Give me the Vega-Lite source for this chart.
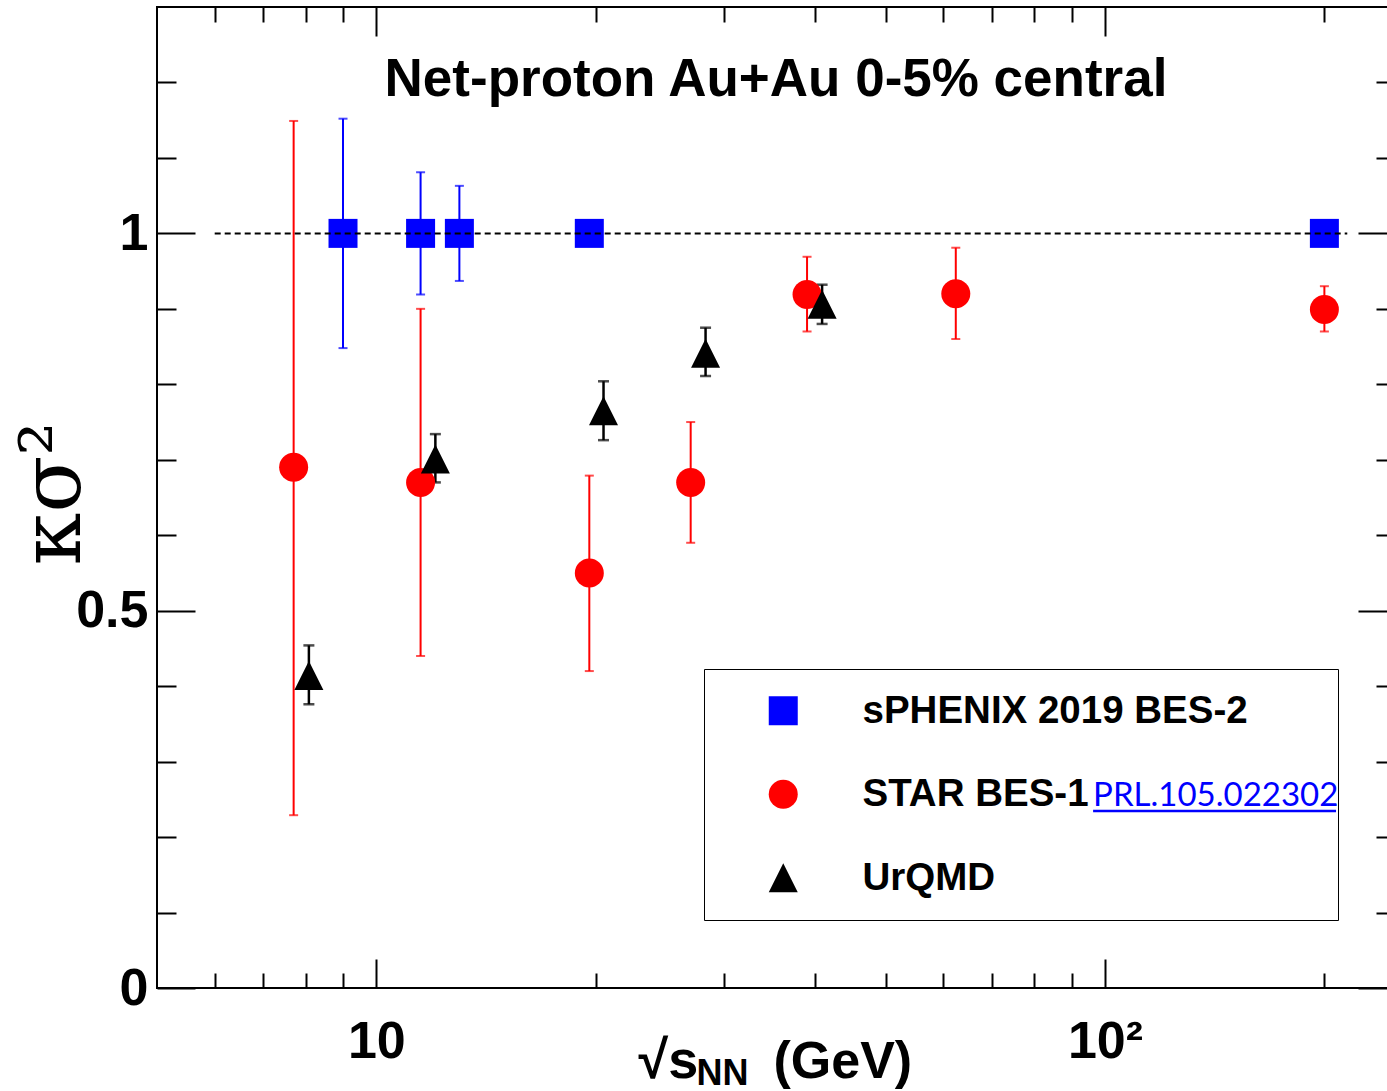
{
  "$schema": "https://vega.github.io/schema/vega-lite/v6.json",
  "autosize": {"type": "none"},
  "padding": {"left": 157, "top": 7, "right": 0, "bottom": 103},
  "width": 1238,
  "height": 981,
  "background": "white",
  "title": {
    "text": "Net-proton Au+Au 0-5% central",
    "font": "Liberation Sans",
    "fontSize": 53,
    "fontWeight": "bold",
    "color": "black",
    "anchor": "middle",
    "frame": "group",
    "baseline": "alphabetic",
    "offset": -143
  },
  "datasets": {
    "kappa": [
      {"series": "sPHENIX 2019 BES-2", "energy": 9.0, "value": 1.0, "lo": 0.848, "hi": 1.152},
      {"series": "sPHENIX 2019 BES-2", "energy": 11.5, "value": 1.0, "lo": 0.919, "hi": 1.081},
      {"series": "sPHENIX 2019 BES-2", "energy": 13.0, "value": 1.0, "lo": 0.937, "hi": 1.063},
      {"series": "sPHENIX 2019 BES-2", "energy": 19.6, "value": 1.0, "lo": 0.988, "hi": 1.012},
      {"series": "sPHENIX 2019 BES-2", "energy": 200, "value": 1.0, "lo": 0.99, "hi": 1.01},
      {"series": "STAR BES-1", "energy": 7.7, "value": 0.69, "lo": 0.229, "hi": 1.149},
      {"series": "STAR BES-1", "energy": 11.5, "value": 0.67, "lo": 0.44, "hi": 0.9},
      {"series": "STAR BES-1", "energy": 19.6, "value": 0.55, "lo": 0.42, "hi": 0.679},
      {"series": "STAR BES-1", "energy": 27, "value": 0.67, "lo": 0.59, "hi": 0.75},
      {"series": "STAR BES-1", "energy": 39, "value": 0.919, "lo": 0.87, "hi": 0.969},
      {"series": "STAR BES-1", "energy": 62.4, "value": 0.92, "lo": 0.86, "hi": 0.981},
      {"series": "STAR BES-1", "energy": 200, "value": 0.899, "lo": 0.87, "hi": 0.93},
      {"series": "UrQMD", "energy": 8.08, "value": 0.414, "lo": 0.376, "hi": 0.454},
      {"series": "UrQMD", "energy": 12.05, "value": 0.701, "lo": 0.67, "hi": 0.734},
      {"series": "UrQMD", "energy": 20.5, "value": 0.765, "lo": 0.726, "hi": 0.804},
      {"series": "UrQMD", "energy": 28.3, "value": 0.841, "lo": 0.811, "hi": 0.875},
      {"series": "UrQMD", "energy": 40.9, "value": 0.906, "lo": 0.88, "hi": 0.932}
    ]
  },
  "data": {"name": "kappa"},
  "resolve": {"axis": {"x": "independent", "y": "independent"}},
  "layer": [
    {
      "transform": [{"filter": "datum.series === 'sPHENIX 2019 BES-2'"}],
      "mark": {"type": "errorbar", "ticks": true, "color": "#0000ff", "thickness": 2, "size": 9},
      "encoding": {
        "x": {"field": "energy", "type": "quantitative", "scale": {"type": "log", "domain": [5, 250], "nice": false}, "axis": null},
        "y": {"field": "lo", "type": "quantitative", "scale": {"domain": [0, 1.3], "nice": false, "zero": false}, "axis": null},
        "y2": {"field": "hi"}
      }
    },
    {
      "transform": [{"filter": "datum.series === 'STAR BES-1'"}],
      "mark": {"type": "errorbar", "ticks": true, "color": "#ff0000", "thickness": 2, "size": 9},
      "encoding": {
        "x": {"field": "energy", "type": "quantitative", "scale": {"type": "log", "domain": [5, 250], "nice": false}, "axis": null},
        "y": {"field": "lo", "type": "quantitative", "scale": {"domain": [0, 1.3], "nice": false, "zero": false}, "axis": null},
        "y2": {"field": "hi"}
      }
    },
    {
      "transform": [{"filter": "datum.series === 'UrQMD'"}],
      "mark": {"type": "errorbar", "ticks": true, "color": "#000000", "thickness": 2.5, "size": 11},
      "encoding": {
        "x": {"field": "energy", "type": "quantitative", "scale": {"type": "log", "domain": [5, 250], "nice": false}, "axis": null},
        "y": {"field": "lo", "type": "quantitative", "scale": {"domain": [0, 1.3], "nice": false, "zero": false}, "axis": null},
        "y2": {"field": "hi"}
      }
    },
    {
      "mark": {"type": "point", "filled": true, "opacity": 1, "size": 841, "strokeWidth": 0},
      "encoding": {
        "x": {
          "field": "energy", "type": "quantitative",
          "scale": {"type": "log", "domain": [5, 250], "nice": false},
          "axis": {
            "orient": "bottom", "values": [10, 100],
            "labelExpr": "datum.value >= 100 ? '10²' : '10'",
            "tickSize": -29, "labelPadding": 57,
            "labelFont": "Liberation Sans", "labelFontWeight": "bold", "labelFontSize": 52,
            "labelBaseline": "top", "labelAlign": "center",
            "labelOverlap": false, "labelFlush": false, "labelBound": false,
            "title": "√s", "titleFont": "Liberation Sans", "titleFontWeight": "bold", "titleFontSize": 54,
            "titleX": 481, "titleY": 89, "titleAlign": "left", "titleBaseline": "alphabetic"
          }
        },
        "y": {
          "field": "value", "type": "quantitative",
          "scale": {"domain": [0, 1.3], "nice": false, "zero": false},
          "axis": {
            "orient": "left", "values": [0, 0.5, 1], "format": "~g",
            "tickSize": -38, "labelPadding": 47,
            "labelFont": "Liberation Sans", "labelFontWeight": "bold", "labelFontSize": 52,
            "labelAlign": "right", "labelBaseline": "middle",
            "labelOverlap": false, "labelFlush": false, "labelBound": false,
            "title": "κσ²", "titleFont": "DejaVu Serif", "titleFontSize": 84, "titleFontWeight": "normal",
            "titleAngle": 270, "titleX": -78, "titleY": 486, "titleAlign": "center", "titleBaseline": "alphabetic"
          }
        },
        "color": {
          "field": "series", "type": "nominal",
          "scale": {"domain": ["sPHENIX 2019 BES-2", "STAR BES-1", "UrQMD"], "range": ["#0000ff", "#ff0000", "#000000"]},
          "legend": {
            "title": null, "orient": "none", "legendX": 547, "legendY": 662,
            "padding": 22.5, "strokeColor": "black",
            "labelFont": "Liberation Sans", "labelFontSize": 38.5, "labelFontWeight": "bold", "labelColor": "black",
            "labelLimit": 2000, "rowPadding": 44.5, "symbolOffset": 37.5, "labelOffset": 60,
            "symbolSize": 841, "symbolStrokeWidth": 0,
            "labelExpr": "datum.label == 'sPHENIX 2019 BES-2' ? datum.label + '\u00a0\u00a0\u00a0\u00a0\u00a0\u00a0\u200a\u200b' : datum.label"
          }
        },
        "shape": {
          "field": "series", "type": "nominal",
          "scale": {"domain": ["sPHENIX 2019 BES-2", "STAR BES-1", "UrQMD"], "range": ["square", "circle", "M0,-1L1,1L-1,1Z"]}
        }
      }
    },
    {
      "data": {"values": [{}]},
      "mark": {"type": "rule", "color": "black", "strokeWidth": 2, "strokeDash": [6, 4]},
      "encoding": {
        "x": {
          "datum": 6, "type": "quantitative",
          "scale": {"type": "log", "domain": [5, 250], "nice": false},
          "axis": {
            "orient": "bottom", "values": [6, 7, 8, 9, 20, 30, 40, 50, 60, 70, 80, 90, 200],
            "tickSize": -15, "labels": false,
            "title": "NN", "titleFont": "Liberation Sans", "titleFontWeight": "bold", "titleFontSize": 36,
            "titleX": 539, "titleY": 96, "titleAlign": "left", "titleBaseline": "alphabetic"
          }
        },
        "x2": {"datum": 215},
        "y": {
          "datum": 1, "type": "quantitative",
          "scale": {"domain": [0, 1.3], "nice": false, "zero": false},
          "axis": {
            "orient": "left", "values": [0.1, 0.2, 0.3, 0.4, 0.6, 0.7, 0.8, 0.9, 1.1, 1.2],
            "tickSize": -19, "labels": false, "title": null
          }
        }
      }
    },
    {
      "data": {"values": [{}]},
      "mark": {"type": "text", "font": "Lato", "fontSize": 33, "color": "#0000ff", "align": "left", "baseline": "alphabetic"},
      "encoding": {
        "x": {
          "datum": 96.3, "type": "quantitative",
          "scale": {"type": "log", "domain": [5, 250], "nice": false},
          "axis": {
            "orient": "top", "values": [10, 100], "tickSize": -29, "labels": false,
            "title": "(GeV)", "titleFont": "Liberation Sans", "titleFontWeight": "bold", "titleFontSize": 52,
            "titleX": 616, "titleY": 1070, "titleAlign": "left", "titleBaseline": "alphabetic"
          }
        },
        "y": {
          "datum": 0.241, "type": "quantitative",
          "scale": {"domain": [0, 1.3], "nice": false, "zero": false},
          "axis": {"orient": "right", "values": [0, 0.5, 1], "tickSize": -37, "labels": false, "title": null}
        },
        "text": {"value": "PRL.105.022302"}
      }
    },
    {
      "data": {"values": [{}]},
      "mark": {"type": "rule", "color": "#0000ff", "strokeWidth": 2.5},
      "encoding": {
        "x": {
          "datum": 96.3, "type": "quantitative",
          "scale": {"type": "log", "domain": [5, 250], "nice": false},
          "axis": {
            "orient": "top", "values": [6, 7, 8, 9, 20, 30, 40, 50, 60, 70, 80, 90, 200],
            "tickSize": -15, "labels": false, "title": null
          }
        },
        "x2": {"datum": 207.5},
        "y": {
          "datum": 0.2346, "type": "quantitative",
          "scale": {"domain": [0, 1.3], "nice": false, "zero": false},
          "axis": {
            "orient": "right", "values": [0.1, 0.2, 0.3, 0.4, 0.6, 0.7, 0.8, 0.9, 1.1, 1.2],
            "tickSize": -19, "labels": false, "title": null
          }
        }
      }
    }
  ],
  "config": {
    "view": {"stroke": "black", "strokeWidth": 2, "fill": "white"},
    "axis": {
      "domain": false, "grid": false,
      "tickColor": "black", "tickWidth": 2,
      "labelColor": "black", "titleColor": "black"
    }
  }
}
